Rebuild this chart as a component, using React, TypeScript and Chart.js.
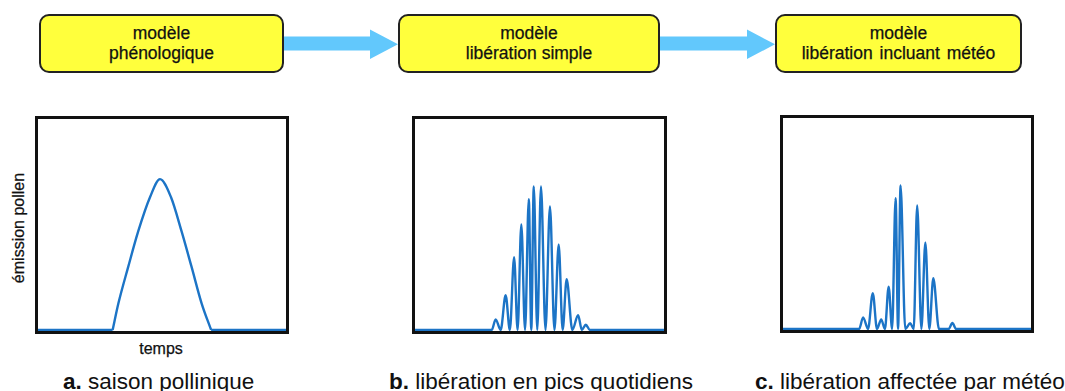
import React, { useEffect, useRef } from "react";
import { Chart, registerables } from "chart.js";

Chart.register(...registerables);

const FONT = '"Liberation Sans", Arial, Helvetica, sans-serif';
const LINE_COLOR = "#1C74C6";
const YELLOW = "#FFFF3C";
const ARROW = "#62C8FC";

// Panel a – phenological model: pollen season (time in % of axis, emission in % of axis)
const seasonTime = [30.1, 32.4, 36.4, 40.4, 45.2, 49.2, 53.6, 57.9, 61.9, 66.0, 69.8];
const seasonEmission = [0, 12.5, 30, 46.7, 63, 71.5, 63, 46.7, 30, 12.5, 0];
const seasonBeforeTime = [0, 30.1];
const seasonAfterTime = [69.8, 100];
const flatEmission = [0, 0];

// Panel b – simple release model: daily peaks
const dailyTime = [0, 30.8, 32.4, 34.4, 36.4, 38.1, 39.8, 41.2, 42.7, 44.2, 45.7, 46.7, 47.7, 49.1, 50.6, 52.4, 54.2, 56.0, 57.7, 59.3, 60.9, 63.2, 65.5, 67.0, 68.6, 70.2, 100];
const dailyEmission = [0, 0, 5, 0, 16.5, 0, 34.5, 0, 50, 0, 62, 0, 68, 0, 68, 0, 58.5, 0, 40.5, 0, 24, 0, 7, 0, 2.5, 0, 0];

// Panel c – release model including weather
const weatherTime = [0, 30.7, 32.3, 34.3, 36.2, 37.9, 39.6, 41.1, 42.6, 44.0, 45.4, 46.4, 47.4, 49.3, 51.3, 52.7, 54.1, 55.8, 57.4, 59.0, 60.6, 62.9, 66.8, 68.3, 69.8, 100];
const weatherEmission = [0, 0, 5.5, 0, 17, 0, 4.5, 0, 20, 0, 62, 0, 68, 0, 2.7, 0, 58.5, 0, 41, 0, 24, 0, 0, 2.8, 0, 0];

const boxTitles = ["modèle", "modèle", "modèle"];
const boxSubtitles = ["phénologique", "libération simple", "libération incluant météo"];
const captionLetters = ["a.", "b.", "c."];
const captionTexts = [" saison pollinique", " libération en pics quotidiens", " libération affectée par météo"];
const yAxisLabel = "émission pollen";
const xAxisLabel = "temps";

type Series = { xs: number[]; ys: number[] };

const framePlugin = {
  id: "frame",
  afterDraw(chart: any) {
    const { ctx, chartArea: a } = chart;
    ctx.save();
    ctx.strokeStyle = "#111";
    ctx.lineWidth = 3;
    ctx.strokeRect(a.left - 1.5, a.top - 1.5, a.right - a.left + 3, a.bottom - a.top + 3);
    ctx.restore();
  },
};

function Panel(props: { left: number; top: number; width: number; height: number; series: Series[] }) {
  const ref = useRef<HTMLCanvasElement | null>(null);
  useEffect(() => {
    if (!ref.current) return;
    const chart = new Chart(ref.current, {
      type: "line",
      data: {
        datasets: props.series.map((s) => ({
          data: s.xs.map((x, i) => ({ x, y: s.ys[i] })),
          borderColor: LINE_COLOR,
          borderWidth: 2.4,
          pointRadius: 0,
          fill: false,
          cubicInterpolationMode: "monotone" as const,
          clip: false as any,
        })),
      },
      options: {
        animation: false,
        responsive: false,
        layout: { padding: 3 },
        plugins: { legend: { display: false }, tooltip: { enabled: false }, title: { display: false } },
        scales: {
          x: { type: "linear", min: 0, max: 100, display: false },
          y: { type: "linear", min: -0.5, max: 100, display: false },
        },
      },
      plugins: [framePlugin],
    });
    return () => chart.destroy();
  }, []);
  return (
    <canvas
      ref={ref}
      width={props.width}
      height={props.height}
      style={{ position: "absolute", left: props.left, top: props.top, width: props.width, height: props.height }}
    />
  );
}

const boxes = [
  { left: 39, width: 245, ws: 0 },
  { left: 398, width: 262, ws: 0 },
  { left: 775, width: 247, ws: 2 },
];

const captionLefts = [63, 389, 755];

export default function App() {
  return (
    <div
      style={{
        position: "absolute",
        left: 0,
        top: 0,
        width: 1065,
        height: 391,
        overflow: "hidden",
        background: "#fff",
        fontFamily: FONT,
        color: "#111",
      }}
    >
      <svg width={1065} height={100} style={{ position: "absolute", left: 0, top: 0 }}>
        <polygon points="284,36.5 370,36.5 370,29.5 398,44.3 370,59 370,50.5 284,50.5" fill={ARROW} />
        <polygon points="660,36.5 747,36.5 747,29.5 775,44.3 747,59 747,50.5 660,50.5" fill={ARROW} />
      </svg>
      {boxes.map((b, i) => (
        <div
          key={i}
          style={{
            position: "absolute",
            left: b.left,
            top: 14,
            width: b.width,
            height: 59,
            boxSizing: "border-box",
            border: "2px solid #222",
            borderRadius: 10,
            background: YELLOW,
            display: "flex",
            flexDirection: "column",
            alignItems: "center",
            justifyContent: "center",
            fontSize: 17.5,
            lineHeight: "19.5px",
            wordSpacing: b.ws,
            whiteSpace: "nowrap",
            WebkitTextStroke: "0.25px #111",
          }}
        >
          <div>{boxTitles[i]}</div>
          <div>{boxSubtitles[i]}</div>
        </div>
      ))}

      <Panel
        left={35}
        top={116}
        width={254}
        height={218}
        series={[
          { xs: seasonBeforeTime, ys: flatEmission },
          { xs: seasonTime, ys: seasonEmission },
          { xs: seasonAfterTime, ys: flatEmission },
        ]}
      />
      <Panel left={412} top={116} width={255} height={218} series={[{ xs: dailyTime, ys: dailyEmission }]} />
      <Panel left={780} top={115} width={254} height={218} series={[{ xs: weatherTime, ys: weatherEmission }]} />

      <div
        style={{
          position: "absolute",
          left: 18.5 - 100,
          top: 228 - 8,
          width: 200,
          height: 16,
          lineHeight: "16px",
          fontSize: 16,
          textAlign: "center",
          transform: "rotate(-90deg)",
          whiteSpace: "nowrap",
          WebkitTextStroke: "0.25px #111",
        }}
      >
        {yAxisLabel}
      </div>
      <div
        style={{
          position: "absolute",
          left: 161 - 50,
          top: 340.5,
          width: 100,
          lineHeight: "16px",
          fontSize: 16,
          textAlign: "center",
          WebkitTextStroke: "0.25px #111",
        }}
      >
        {xAxisLabel}
      </div>

      {captionLetters.map((l, i) => (
        <div
          key={i}
          style={{
            position: "absolute",
            left: captionLefts[i],
            top: 371,
            lineHeight: "22.5px",
            fontSize: 22.5,
            whiteSpace: "pre",
          }}
        >
          <b>{l}</b>
          {captionTexts[i]}
        </div>
      ))}
    </div>
  );
}
